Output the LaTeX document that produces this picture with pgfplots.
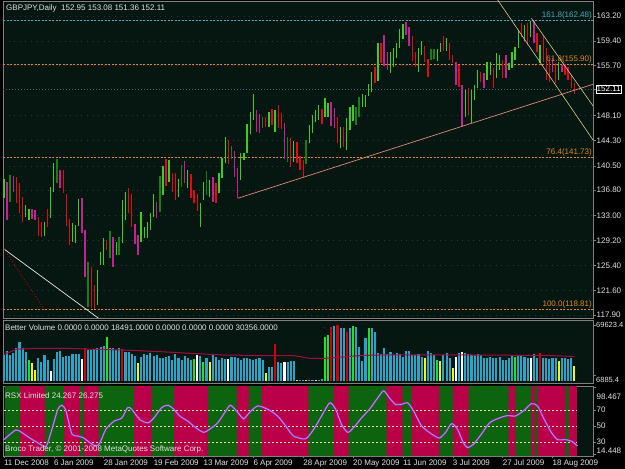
\documentclass[border=0pt]{standalone}
\usepackage{pgfplots}
\pgfplotsset{compat=1.18}
\usepackage{pgfplotstable}
\usepackage{fontspec}
\setmainfont{Liberation Sans}
\definecolor{bgc}{RGB}{6,22,16}
\definecolor{lbl}{RGB}{225,225,225}
\definecolor{brd}{RGB}{128,128,128}
\definecolor{upg}{RGB}{60,205,30}
\definecolor{updk}{RGB}{25,125,25}
\definecolor{dnr}{RGB}{230,10,20}
\definecolor{dnm}{RGB}{200,30,150}
\definecolor{volc}{RGB}{40,165,200}
\definecolor{volg}{RGB}{30,230,30}
\definecolor{volr}{RGB}{215,0,10}
\definecolor{voly}{RGB}{250,245,0}
\definecolor{mac}{RGB}{165,10,70}
\definecolor{rsxr}{RGB}{185,0,72}
\definecolor{rsxg}{RGB}{12,100,15}
\definecolor{fibo}{RGB}{225,135,30}
\definecolor{fibc}{RGB}{70,170,190}
\definecolor{supc}{RGB}{215,140,120}
\definecolor{chc}{RGB}{215,200,145}
\definecolor{gridc}{RGB}{40,55,70}
\definecolor{bidc}{RGB}{85,90,110}
\definecolor{lvlc}{RGB}{230,225,170}
\definecolor{rsxm}{RGB}{235,20,220}
\definecolor{rsxc}{RGB}{90,200,235}
\newcommand\mtf{\fontsize{8}{9}\selectfont}

\pgfplotstableread{
i H L d
0 138.45 135.57 1
1 138.10 132.29 3
2 139.11 135.07 2
3 138.96 136.58 3
4 138.85 134.81 0
5 137.84 133.30 0
6 135.82 132.04 0
7 134.56 132.79 1
8 133.91 132.29 1
9 133.91 132.39 3
10 133.80 132.29 3
11 132.69 129.86 0
12 132.04 129.76 0
13 132.04 129.86 1
14 133.91 131.18 0
15 137.34 132.64 1
16 140.87 136.58 1
17 141.48 137.84 2
18 139.86 137.09 3
19 139.86 136.33 0
20 136.23 131.38 0
21 132.39 128.50 0
22 131.88 129.00 1
23 131.53 128.85 1
24 135.47 131.38 1
25 135.62 130.27 3
26 130.77 123.70 3
27 125.87 119.16 2
28 125.22 119.00 0
29 122.44 118.81 0
30 124.71 119.41 1
31 127.49 125.47 1
32 129.51 125.47 1
33 129.26 127.74 0
34 130.62 126.48 2
35 129.76 125.22 3
36 129.00 126.99 1
37 129.66 126.99 2
38 135.32 128.75 1
39 136.58 132.29 1
40 137.19 133.30 0
41 136.23 131.28 0
42 131.68 128.65 3
43 130.02 126.99 3
44 133.55 129.00 1
45 131.28 129.51 1
46 132.04 129.51 1
47 133.40 130.77 1
48 136.23 132.79 1
49 135.07 132.54 3
50 138.95 133.55 2
51 140.47 136.08 1
52 141.48 137.44 0
53 141.38 138.09 1
54 139.46 136.58 0
55 139.36 135.32 0
56 138.45 135.82 1
57 140.62 137.34 2
58 141.28 137.84 3
59 139.86 137.09 1
60 139.21 135.67 0
61 136.83 134.81 0
62 136.23 133.70 0
63 134.91 131.28 1
64 138.09 135.32 1
65 139.71 136.08 2
66 138.35 135.82 1
67 138.85 135.07 3
68 137.84 134.91 0
69 139.36 136.33 1
70 141.63 138.60 1
71 144.81 140.87 1
72 144.41 140.77 0
73 143.50 141.53 2
74 142.74 138.75 3
75 140.22 135.57 3
76 142.39 138.35 1
77 142.49 141.38 1
78 146.78 142.39 1
79 148.70 145.27 1
80 151.38 147.44 1
81 148.95 145.67 3
82 148.35 145.52 3
83 147.84 146.18 2
84 147.84 146.33 0
85 148.70 146.33 1
86 149.11 146.68 0
87 148.95 145.67 1
88 149.71 146.18 0
89 148.45 146.03 0
90 146.93 141.48 3
91 144.91 141.13 2
92 144.66 140.37 0
93 144.31 141.13 1
94 144.15 140.87 0
95 141.98 139.86 0
96 141.38 138.86 0
97 144.41 140.78 2
98 146.68 143.91 1
99 148.20 145.42 1
100 148.96 147.09 1
101 149.72 147.44 1
102 149.11 146.79 0
103 150.73 147.95 1
104 149.97 147.95 1
105 150.12 146.53 3
106 149.21 146.18 3
107 147.95 144.01 0
108 146.43 143.15 1
109 146.43 143.30 0
110 147.70 142.90 1
111 149.46 145.93 1
112 149.72 147.34 1
113 149.46 146.69 2
114 150.88 147.95 2
115 151.33 149.46 1
116 151.23 149.46 1
117 152.90 151.08 1
118 154.77 151.74 1
119 155.42 153.10 0
120 159.06 153.40 1
121 159.06 156.03 0
122 160.32 155.63 3
123 157.80 155.02 3
124 157.80 154.62 1
125 158.30 155.52 1
126 159.16 156.79 1
127 161.18 158.30 1
128 161.99 159.67 1
129 162.34 160.32 3
130 161.58 158.66 3
131 160.17 156.43 0
132 157.80 155.42 0
133 158.30 154.77 1
134 159.46 157.29 1
135 158.66 156.28 0
136 156.69 153.91 0
137 158.15 156.53 2
138 158.15 156.64 2
139 158.15 156.43 1
140 159.16 157.80 1
141 160.17 157.95 0
142 159.92 157.90 1
143 159.06 156.54 0
144 157.29 156.03 0
145 156.28 152.75 3
146 155.78 152.50 0
147 152.75 146.43 3
148 151.99 147.95 1
149 152.24 148.20 0
150 151.99 146.94 1
151 152.75 150.48 1
152 155.02 152.24 1
153 154.77 153.25 0
154 154.52 152.24 3
155 156.28 153.51 1
156 156.28 154.26 1
157 155.27 152.24 0
158 157.55 153.76 1
159 157.29 155.02 1
160 156.54 153.76 0
161 157.29 153.76 3
162 156.03 155.02 1
163 157.80 155.27 1
164 158.56 156.54 1
165 161.08 158.31 1
166 162.09 160.07 0
167 161.84 159.42 1
168 162.09 158.81 0
169 162.48 160.07 1
170 162.45 159.06 3
171 160.58 157.80 0
172 158.81 156.03 1
173 160.22 156.28 0
174 158.31 153.51 0
175 156.54 153.25 0
176 156.79 154.77 3
177 156.03 153.00 0
178 156.28 153.51 1
179 155.78 154.77 3
180 155.88 154.26 0
181 155.52 153.51 0
182 154.26 152.24 0
183 153.08 151.36 0
}\price

\pgfplotstableread{
i v c
0 32322 0
1 37294 0
2 32322 0
3 34394 0
4 40608 0
5 48065 0
6 41437 0
7 36465 0
8 26107 1
9 22793 3
10 13678 3
11 28179 0
12 24036 0
13 32322 0
14 26107 0
15 12435 4
16 26936 0
17 36465 0
18 37294 0
19 29422 0
20 31493 0
21 31079 0
22 33151 0
23 33565 0
24 33151 0
25 27350 4
26 40608 2
27 38951 0
28 38951 0
29 39365 0
30 40608 0
31 42265 0
32 43094 0
33 55108 1
34 40608 0
35 40608 0
36 38537 0
37 40608 0
38 39365 2
39 36465 0
40 35636 0
41 33151 0
42 31493 0
43 21964 3
44 30250 0
45 33151 0
46 32322 0
47 34394 0
48 31493 0
49 32322 0
50 28179 0
51 29008 0
52 29836 0
53 31493 0
54 26107 0
55 33151 0
56 29008 0
57 26107 0
58 31079 0
59 28179 0
60 26107 0
61 26936 1
62 32322 4
63 31079 0
64 24036 1
65 29008 0
66 24036 3
67 32322 0
68 30250 0
69 26107 0
70 29008 0
71 26936 0
72 27350 4
73 29422 0
74 30250 0
75 28179 0
76 26107 0
77 28179 0
78 29008 0
79 27350 0
80 25693 0
81 27350 0
82 28179 0
83 26107 0
84 10364 3
85 17821 0
86 17821 0
87 45580 2
88 24036 0
89 21964 0
90 24036 4
91 24036 0
92 25279 0
93 24864 0
94 1500 3
95 1200 0
96 1800 0
97 1000 3
98 1400 0
99 1600 0
100 1300 3
101 1100 0
102 2000 0
103 55108 1
104 57180 1
105 67538 2
106 68780 0
107 69623 2
108 65466 0
109 65466 0
110 60494 2
111 66295 0
112 68366 1
113 67538 0
114 42680 0
115 24864 0
116 53037 0
117 66295 1
118 66295 0
119 61323 0
120 34394 0
121 33151 0
122 40608 0
123 33151 0
124 35636 0
125 32322 0
126 34394 0
127 33151 0
128 30250 0
129 37294 0
130 37294 0
131 32322 0
132 32322 0
133 33151 0
134 30250 0
135 29008 3
136 37294 0
137 35222 0
138 32322 0
139 26107 1
140 24864 3
141 32322 0
142 34394 0
143 28179 0
144 15750 3
145 30250 4
146 34394 0
147 36465 4
148 34394 0
149 33151 0
150 32322 0
151 32322 0
152 33151 0
153 32322 0
154 28179 0
155 28179 0
156 30250 0
157 28179 0
158 28179 0
159 30250 0
160 26107 0
161 26107 0
162 28179 0
163 32322 0
164 30250 1
165 31493 0
166 32322 0
167 30250 0
168 29008 0
169 29008 4
170 33151 0
171 28179 0
172 35222 2
173 29008 0
174 29008 0
175 26936 0
176 28179 0
177 28179 0
178 24864 3
179 28179 0
180 29008 0
181 26936 0
182 28179 0
183 18491 3
}\vol

\pgfplotstableread{
i m
0 33151
4 39365
10 40608
20 40608
30 39365
38 38537
50 36465
60 34394
70 32322
85 31493
93 31493
95 30250
98 28179
103 28179
106 29008
110 30250
114 31493
120 32322
150 32322
175 31700
183 30356
}\volma

\pgfplotstableread{
i r
0 33
3.8 45
5.8 41.7
8.3 35
10.9 29
13.5 24.5
15.4 46
17.3 71
18.6 76
19.9 69
21.8 40
23.7 37.5
25.6 35
27.6 29
29.5 25
30.8 29
32.7 46
35.3 56
37.8 60
39.7 73
41 71
43.6 58
46.2 54
48.1 60
50.6 73
52.6 76
54.5 71
56.4 62.5
59 56
61.5 48
64.1 42
66 46
68.6 54
71.2 69
72.7 76
75 67
76.9 59
78.8 67
81.4 75
84.6 71
87.8 62.5
90.4 50
92.9 37.5
96.8 34
99.4 46
101.9 62.5
104.5 79
106.4 71
108.3 52
110.3 42
112.2 48
114.7 60
117.3 71
119.9 85
121.8 94
123.7 85
125.6 77
127.6 77
129.5 79
131.4 69
134 50
137.2 40
139.7 35
141.7 42
143.6 53
145.5 46
147.4 29
148.7 23
150.6 27
153.2 40
155.8 54
158.9 60
161.5 63
164.1 62.5
166.7 69
169.2 78
171.2 75
173.1 60
175.6 42
177.6 33
180.1 33
182.1 31
184 25
}\rsx

\pgfplotsset{mt/.style={scale only axis, width=590pt, anchor=south west,
  xmin=-0.3, xmax=188.98,
  axis background/.style={fill=bgc},
  axis line style={draw=brd, line width=0.6pt},
  tick style={draw=brd, line width=0.5pt},
  major tick length=2.5pt, tick align=outside,
  ytick pos=right, yticklabel pos=right,
  scaled y ticks=false,
  ticklabel style={font=\mtf, text=lbl},
  yticklabel style={inner xsep=1pt},
  clip=true}}

\begin{document}
\begin{tikzpicture}[x=1pt,y=1pt]
\useasboundingbox (0,0) rectangle (625,469);
\fill[black] (0,0) rectangle (625,469);

% ---------- main price panel ----------
\begin{axis}[mt, at={(3pt,151pt)}, height=317pt,
  ymin=117.44, ymax=165.47, xtick=\empty,
  ytick={117.9,121.6,125.4,129.2,133.0,136.8,140.5,144.3,148.1,155.7,159.4,163.2},
  yticklabels={117.90,121.60,125.40,129.20,133.00,136.80,140.50,144.30,148.10,155.70,159.40,163.20},
  ymajorgrids, major grid style={draw=gridc, line width=0.5pt, dash pattern=on 0.6pt off 5pt},
  extra y ticks={152.11}, extra y tick labels={152.11},
  extra y tick style={grid=none, yticklabel style={draw=white, fill=black, text=white, inner sep=1pt}}]
% fibonacci and price levels
\addplot[fibc, line width=0.6pt, dash pattern=on 2pt off 1.5pt] coordinates {(-0.3,162.48) (188.98,162.48)};
\addplot[fibo, line width=0.6pt, dash pattern=on 2pt off 1.5pt] coordinates {(-0.3,155.90) (188.98,155.90)};
\addplot[fibo, line width=0.6pt, dash pattern=on 2pt off 1.5pt] coordinates {(-0.3,141.73) (188.98,141.73)};
\addplot[fibo, line width=0.6pt, dash pattern=on 2pt off 1.5pt] coordinates {(-0.3,118.81) (188.98,118.81)};
\addplot[bidc, line width=0.6pt, dash pattern=on 1pt off 2pt] coordinates {(-0.3,152.11) (188.98,152.11)};
% price bars
\addplot[upg, line width=1.3pt, quiver={u=0, v=\thisrow{H}-\thisrow{L}}, restrict expr to domain={\thisrow{d}}{1:1}] table[x=i, y=L] {\price};
\addplot[updk, line width=1.6pt, quiver={u=0, v=\thisrow{H}-\thisrow{L}}, restrict expr to domain={\thisrow{d}}{2:2}] table[x=i, y=L] {\price};
\addplot[dnr, line width=1.3pt, quiver={u=0, v=\thisrow{H}-\thisrow{L}}, restrict expr to domain={\thisrow{d}}{0:0}] table[x=i, y=L] {\price};
\addplot[dnm, line width=1.5pt, quiver={u=0, v=\thisrow{H}-\thisrow{L}}, restrict expr to domain={\thisrow{d}}{3:3}] table[x=i, y=L] {\price};
% trend lines
\addplot[supc, line width=0.7pt] coordinates {(75,135.57) (189.5,152.93)};
\addplot[chc, line width=0.6pt] coordinates {(156,167.3) (189.0,144.4)};
\addplot[chc, line width=0.6pt] coordinates {(169.2,162.85) (189.4,149.3)};
\addplot[white!80!gray, line width=0.7pt] coordinates {(0,127.9) (31.5,117.0)};
\addplot[red!80!black, line width=0.8pt, dash pattern=on 1pt off 2pt] coordinates {(0,127.9) (13,118.7)};
% fib labels
\node[anchor=south east, inner sep=1pt, text=fibc, font=\mtf] at (axis cs:188.98,162.48) {161.8(162.48)};
\node[anchor=south east, inner sep=1pt, text=fibo, font=\mtf] at (axis cs:188.98,155.90) {61.8(155.90)};
\node[anchor=south east, inner sep=1pt, text=fibo, font=\mtf] at (axis cs:188.98,141.73) {76.4(141.73)};
\node[anchor=south east, inner sep=1pt, text=fibo, font=\mtf] at (axis cs:188.98,118.81) {100.0(118.81)};
\end{axis}

% ---------- volume panel ----------
\begin{axis}[mt, at={(3pt,86pt)}, height=63pt,
  ymin=-2486, ymax=75823, xtick=\empty,
  ytick={6885.4,69623.4}, yticklabels={{\raisebox{-6.9pt}[0pt][0pt]{6885.4}},69623.4},
  yticklabel style={font=\fontsize{7.5}{9}\selectfont, inner xsep=0.5pt}]
\addplot[ycomb, volc, line width=2.1pt, restrict expr to domain={\thisrow{c}}{0:0}] table[x=i, y=v] {\vol};
\addplot[ycomb, volg, line width=2.1pt, restrict expr to domain={\thisrow{c}}{1:1}] table[x=i, y=v] {\vol};
\addplot[ycomb, volr, line width=2.1pt, restrict expr to domain={\thisrow{c}}{2:2}] table[x=i, y=v] {\vol};
\addplot[ycomb, voly, line width=2.1pt, restrict expr to domain={\thisrow{c}}{3:3}] table[x=i, y=v] {\vol};
\addplot[ycomb, white, line width=2.1pt, restrict expr to domain={\thisrow{c}}{4:4}] table[x=i, y=v] {\vol};
\addplot[mac, line width=1pt] table[x=i, y=m] {\volma};
\end{axis}

% ---------- RSX panel ----------
\begin{axis}[mt, at={(3pt,13pt)}, height=70pt,
  ymin=12.5, ymax=100,
  ytick={14.448,30,50,70,98.467},
  yticklabels={{\raisebox{0.6pt}[0pt][0pt]{14.448}},30,50,70,{\raisebox{-12.4pt}[0pt][0pt]{98.467}}},
  xtick pos=bottom,
  xtick={0,16,32,48,64,80,96,112,128,144,160,176},
  xticklabels={11 Dec 2008,6 Jan 2009,28 Jan 2009,19 Feb 2009,13 Mar 2009,6 Apr 2009,28 Apr 2009,20 May 2009,11 Jun 2009,3 Jul 2009,27 Jul 2009,18 Aug 2009},
  xticklabel style={anchor=north west, inner xsep=0pt, inner ysep=1.5pt}]
\addplot[ybar interval, fill=rsxr, draw=none] coordinates {(0.4,100) (184,100)};
\addplot[ybar interval, fill=rsxg, draw=none] coordinates {(0.4,100) (5.1,0) (13.2,100) (19.2,0) (24.4,100) (25.6,0) (30.4,100) (41.7,0) (47.4,100) (54.5,0) (65.4,100) (74.7,0) (78.6,100) (82.7,0) (97.7,100) (105.8,0) (110.6,100) (122.8,0) (127.9,100) (130.8,0) (139.7,100) (144,0) (149.1,100) (161.9,0) (164.1,100) (169.2,0) (170.3,100) (171.2,0) (180.1,100) (181.2,0)};
\addplot[lvlc, line width=0.5pt, dash pattern=on 2pt off 2pt] coordinates {(0,70) (184,70)};
\addplot[lvlc, line width=0.5pt, dash pattern=on 2pt off 2pt] coordinates {(0,50) (184,50)};
\addplot[lvlc, line width=0.5pt, dash pattern=on 2pt off 2pt] coordinates {(0,30) (184,30)};
\addplot[rsxm, line width=1.6pt, smooth, tension=0.4] table[x=i, y=r] {\rsx};
\addplot[rsxc, line width=0.6pt, smooth, tension=0.4] table[x=i, y=r] {\rsx};
\end{axis}

% ---------- panel texts ----------
\node[anchor=west, inner sep=0pt, text=lbl, font=\mtf] at (6pt,461pt) {GBPJPY,Daily\ \ 152.95 153.08 151.36 152.11};
\node[anchor=west, inner sep=0pt, text=lbl, font=\mtf] at (5pt,141pt) {Better Volume 0.0000 0.0000 18491.0000 0.0000 0.0000 0.0000 30356.0000};
\node[anchor=west, inner sep=0pt, text=lbl, font=\mtf] at (5pt,73pt) {RSX Limited 24.267 26.275};
\node[anchor=west, inner sep=0pt, text=lbl, font=\mtf] at (5pt,20pt) {Broco Trader, © 2001-2008 MetaQuotes Software Corp.};
\end{tikzpicture}
\end{document}
